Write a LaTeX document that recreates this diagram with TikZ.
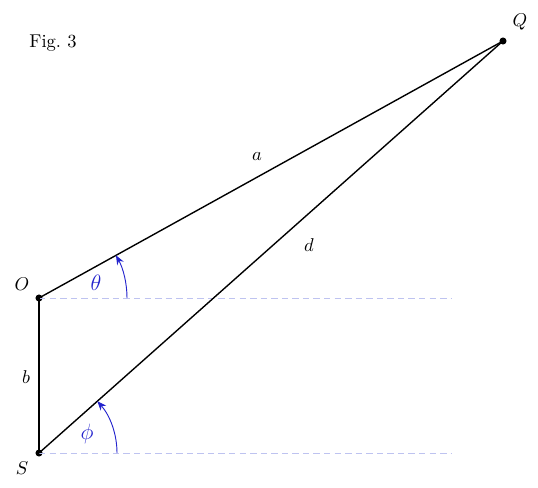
\documentclass[tikz,border=0pt]{standalone}
\usetikzlibrary{arrows.meta}
\definecolor{arccol}{RGB}{35,35,205}
\definecolor{guidecol}{RGB}{190,195,240}
\begin{document}
\begin{tikzpicture}[x=0.54pt,y=-0.54pt,
  dot/.style={circle,fill=black,inner sep=0pt,minimum size=3.8pt},
  guide/.style={draw=guidecol,line width=0.45pt,dash pattern=on 3.5pt off 2.2pt},
  anglearc/.style={draw=arccol,line width=0.5pt,-{Stealth[length=5pt,width=4pt]}},
  anglelabel/.style={text=arccol,font=\large},
  seg/.style={line width=0.75pt}]
\useasboundingbox (0,0) rectangle (538,488);
\node (fig) at (53,43) {Fig.~3};
\node[dot] (O) at (39,298) {};
\node[dot] (S) at (39,453) {};
\node[dot] (Q) at (503,41) {};
\coordinate (Oend) at (452,298);
\coordinate (Send) at (452,453);
\draw[guide] (O.center) -- (Oend);
\draw[guide] (S.center) -- (Send);
\draw[seg] (O.center) -- (Q.center);
\draw[seg] (S.center) -- (Q.center);
\draw[seg] (O.center) -- (S.center);
\node (la) at (257,157) {$a$};
\node (ld) at (309,245) {$d$};
\node (lb) at (26,377) {$b$};
\node (lO) at (22,284) {$O$};
\node (lS) at (22,468) {$S$};
\node (lQ) at (520,22) {$Q$};
\draw[anglearc] ([xshift=88*0.54pt]O.center) arc[start angle=0,end angle=28.98,radius=88*0.54pt];
\draw[anglearc] ([xshift=78*0.54pt]S.center) arc[start angle=0,end angle=41.6,radius=78*0.54pt];
\node[anglelabel] (th) at (96,283) {$\theta$};
\node[anglelabel] (ph) at (87,434) {$\phi$};
\end{tikzpicture}
\end{document}
